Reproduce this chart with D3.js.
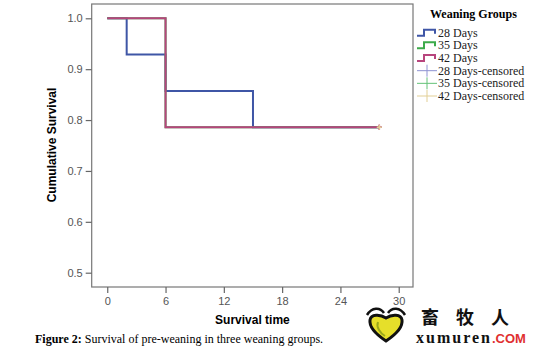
<!DOCTYPE html>
<html>
<head>
<meta charset="utf-8">
<script src="https://cdn.jsdelivr.net/npm/d3@7"></script>
<style>
  body { margin: 0; background: #fff; }
  svg { display: block; }
</style>
</head>
<body>
<div id="viz"></div>
<script>
// survival step data
const groups = ['28 Days', '35 Days', '42 Days'];
const times28 = [0, 2, 6, 15, 28];
const surv28 = [1.0, 0.929, 0.857, 0.786, 0.786];
const times35 = [0, 6, 28];
const surv35 = [1.0, 0.786, 0.786];
const times42 = [0, 6, 28];
const surv42 = [1.0, 0.786, 0.786];
const censorTime = [28, 28, 28];
const censorSurv = [0.786, 0.786, 0.786];
const xTicks = [0, 6, 12, 18, 24, 30];
const yTicks = [0.5, 0.6, 0.7, 0.8, 0.9, 1.0];

const lineColors = ['#3f56a6', '#3caa4a', '#b8457d'];
const censorColors = ['#8e93d2', '#63c277', '#e2cf95'];

const w = 540, h = 350;
const svg = d3.select('#viz').append('svg')
  .attr('width', w).attr('height', h);

const xScale = d3.scaleLinear().domain([-1.6, 31.47]).range([91.7, 413]);
const yScale = d3.scaleLinear().domain([0.4719, 1.0281]).range([287, 4]);

// plot frame
svg.append('rect')
  .attr('x', 91.7).attr('y', 4)
  .attr('width', 413 - 91.7).attr('height', 287 - 4)
  .attr('fill', 'none').attr('stroke', '#777').attr('stroke-width', 1.2);

const yAxis = d3.axisLeft(yScale).tickValues(yTicks).tickFormat(d3.format('.1f')).tickSize(6).tickPadding(3);
const gy = svg.append('g').attr('transform', 'translate(91.7,0)').call(yAxis);
const xAxis = d3.axisBottom(xScale).tickValues(xTicks).tickSize(6).tickPadding(4);
const gx = svg.append('g').attr('transform', 'translate(0,287)').call(xAxis);

[gx, gy].forEach(g => {
  g.select('.domain').remove();
  g.selectAll('line').attr('stroke', '#666').attr('stroke-width', 1.2);
  g.selectAll('text').attr('fill', '#555')
    .style('font-family', '"Liberation Sans", Arial, sans-serif').style('font-size', '11px');
});

// axis titles
svg.append('text')
  .attr('transform', 'translate(56,145) rotate(-90)')
  .attr('text-anchor', 'middle')
  .style('font-family', '"Liberation Sans", Arial, sans-serif')
  .style('font-weight', 'bold').style('font-size', '12px')
  .text('Cumulative Survival');

svg.append('text')
  .attr('x', 252.4).attr('y', 324)
  .attr('text-anchor', 'middle')
  .style('font-family', '"Liberation Sans", Arial, sans-serif')
  .style('font-weight', 'bold').style('font-size', '12px')
  .text('Survival time');

// survival curves
const series = [
  times28.map((t, i) => [t, surv28[i]]),
  times35.map((t, i) => [t, surv35[i]]),
  times42.map((t, i) => [t, surv42[i]])
];
const line = d3.line()
  .x(d => xScale(d[0]))
  .y(d => yScale(d[1]))
  .curve(d3.curveStepAfter);

svg.selectAll('path.km')
  .data(series)
  .enter()
  .append('path')
  .attr('class', 'km')
  .attr('d', line)
  .attr('fill', 'none')
  .attr('stroke', (d, i) => lineColors[i])
  .attr('stroke-width', 2);

// censored marks (the last group sits on top)
censorTime.forEach((t, i) => {
  const cx = xScale(t), cy = yScale(censorSurv[i]);
  svg.append('path')
    .attr('d', `M${cx - 2.5},${cy}H${cx + 2.5}M${cx},${cy - 2.5}V${cy + 2.5}`)
    .attr('stroke', i === 2 ? censorColors[i] : lineColors[2]).attr('stroke-width', 1.5);
});

// legend
const serif = '"Liberation Serif", "Times New Roman", serif';
svg.append('text')
  .attr('x', 430).attr('y', 18)
  .style('font-family', serif).style('font-weight', 'bold').style('font-size', '12px')
  .text('Weaning Groups');

const legendLabels = groups.concat(groups.map(g => g + '-censored'));
const legendY = d3.scaleLinear().domain([0, 5]).range([32.7, 96]);
legendLabels.forEach((label, i) => {
  const y = legendY(i);
  if (i < 3) {
    svg.append('path')
      .attr('d', `M417,${y + 3}H424V${y - 3}H435V${y + 1}`)
      .attr('fill', 'none').attr('stroke', lineColors[i]).attr('stroke-width', 2);
  } else {
    svg.append('path')
      .attr('d', `M417,${y}H437M427,${y - 6}V${y + 6}`)
      .attr('stroke', censorColors[i - 3]).attr('stroke-width', 1);
  }
  svg.append('text')
    .attr('x', 438).attr('y', y + 4)
    .style('font-family', serif).style('font-size', '12px')
    .attr('fill', '#222')
    .text(label);
});

// caption
const cap = svg.append('text')
  .attr('x', 35).attr('y', 343)
  .style('font-family', serif).style('font-size', '12px');
cap.append('tspan').style('font-weight', 'bold').text('Figure 2:');
cap.append('tspan').text(' Survival of pre-weaning in three weaning groups.');

// watermark
const logo = svg.append('g').attr('transform', 'translate(386,327)');
logo.append('path')
  .attr('d', 'M0,14 C-9,8 -17,0 -16,-7 C-15,-13 -6,-13 0,-9 C6,-13 15,-13 16,-7 C17,0 9,8 0,14 Z')
  .attr('fill', '#e6df2a').attr('stroke', '#111').attr('stroke-width', 3);
logo.append('path')
  .attr('d', 'M-8,-5 C-10,0 -6,6 -1,9')
  .attr('fill', 'none').attr('stroke', '#9aa81a').attr('stroke-width', 2);
logo.append('path')
  .attr('d', 'M-19,-12 C-14,-20 -6,-20 -2,-14 M2,-14 C6,-20 14,-20 19,-12')
  .attr('fill', 'none').attr('stroke', '#111').attr('stroke-width', 2.5);

svg.append('text')
  .attr('x', 421).attr('y', 324)
  .style('font-family', '"Noto Sans CJK SC", sans-serif')
  .style('font-weight', 'bold').style('font-size', '18px')
  .style('letter-spacing', '17px')
  .attr('fill', '#111')
  .text('畜牧人');

const wm = svg.append('text')
  .attr('x', 416).attr('y', 343)
  .style('font-size', '16px').style('font-weight', 'bold');
wm.append('tspan').style('font-family', serif).style('letter-spacing', '2px')
  .attr('fill', '#111').text('xumuren');
wm.append('tspan').style('font-family', '"Liberation Sans", Arial, sans-serif')
  .style('font-size', '13px').attr('fill', '#e03030').text('.COM');
</script>
</body>
</html>
